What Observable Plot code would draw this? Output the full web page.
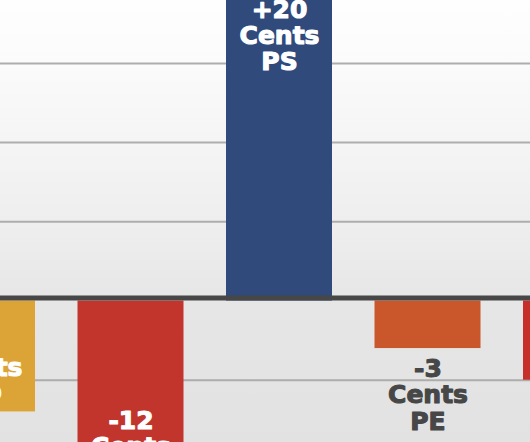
<!DOCTYPE html>
<html>
<head>
<meta charset="utf-8">
<script src="https://cdn.jsdelivr.net/npm/d3@7"></script>
<script src="https://cdn.jsdelivr.net/npm/@observablehq/plot@0.6"></script>
<style>
  html, body { margin: 0; padding: 0; overflow: hidden; background: #e3e3e3; }
  #chart svg { display: block; }
</style>
</head>
<body>
<div id="chart"></div>
<script>
// Change per segment, in cents
const segments = ["PD", "PP", "PS", "PE", "PC"];
const cents = [-7, -12, 20, -3, -5];
// Horizontal guide lines (cents)
const gridTicks = [-5, 5, 10, 15];

const rows = segments.map((segment, i) => ({
  segment,
  cents: cents[i],
  label: `${cents[i] > 0 ? "+" : ""}${cents[i]}\nCents\n${segment}`
}));

// Tall bars carry their label inside; short ones get it underneath
const inside = d => Math.abs(d.cents) > 5;
const font = {fontFamily: "DejaVu Sans", fontWeight: "bold", fontSize: 25, lineHeight: 1.05, strokeWidth: 1.1};

const chart = Plot.plot({
  width: 530,
  height: 442,
  margin: 0,
  style: {
    background: "linear-gradient(#fefefe 0%, #fcfbfb 14%, #f3f2f2 40%, #ebebeb 58%, #e6e6e6 68%, #e2e2e2 100%)",
    fontFamily: "DejaVu Sans"
  },
  x: {domain: segments, range: [-71, 629], paddingInner: 0.2862, paddingOuter: 0, align: 0.5, round: false, axis: null},
  y: {domain: [-8.93, 18.97], axis: null},
  color: {domain: segments, range: ["#dca437", "#c1352c", "#2f4a7b", "#ca572b", "#c62f2a"]},
  marks: [
    Plot.ruleY(gridTicks, {stroke: "#adadad", strokeWidth: 2}),
    Plot.barY(rows, {x: "segment", y: "cents", fill: "segment", clip: true}),
    Plot.ruleY([0], {stroke: "#474747", strokeWidth: 5, dy: -3}),
    Plot.text(rows.filter(d => d.cents > 0), {
      x: "segment", y: "cents", text: "label", lineAnchor: "top", dy: 15,
      fill: "white", stroke: "white", clip: true, ...font
    }),
    Plot.text(rows.filter(d => d.cents < 0 && inside(d)), {
      x: "segment", y: "cents", text: "label", lineAnchor: "bottom", dy: -10,
      fill: "white", stroke: "white", clip: true, ...font
    }),
    Plot.text(rows.filter(d => d.cents < 0 && !inside(d)), {
      x: "segment", y: "cents", text: "label", lineAnchor: "top", dy: 10,
      fill: "#474747", stroke: "#474747", clip: true, ...font
    })
  ]
});

document.getElementById("chart").append(chart);
</script>
</body>
</html>
